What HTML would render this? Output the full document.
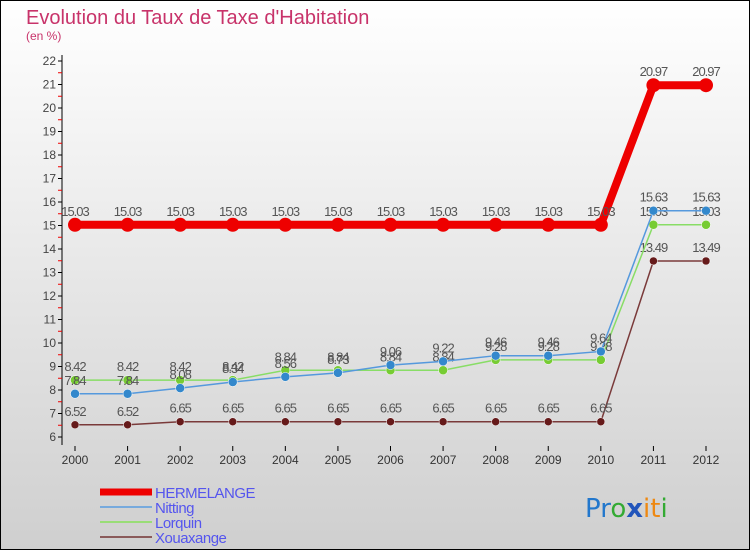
<!DOCTYPE html>
<html><head><meta charset="utf-8"><style>
html,body{margin:0;padding:0}
body{width:750px;height:550px;overflow:hidden;font-family:"Liberation Sans",sans-serif}
</style></head><body>
<svg id="chart" width="750" height="550" xmlns="http://www.w3.org/2000/svg">
<defs><linearGradient id="bg" x1="0" y1="0" x2="0" y2="1"><stop offset="0" stop-color="#ffffff"/><stop offset="1" stop-color="#cfcfcf"/></linearGradient></defs>
<rect x="0.5" y="0.5" width="749" height="549" fill="url(#bg)" stroke="#000"/>
<text x="26" y="24" font-size="20" fill="#c8336a">Evolution du Taux de Taxe d'Habitation</text>
<text x="26" y="40" font-size="12" fill="#c8336a">(en %)</text>
<g id="axes"></g><g id="series"></g><g id="legend"></g>
<text x="585" y="517" font-size="26" font-family="DejaVu Sans, sans-serif"><tspan fill="#2277cc">Pr</tspan><tspan fill="#33aa33">o</tspan><tspan fill="#2255bb" font-weight="bold">x</tspan><tspan fill="#ee8811">it</tspan><tspan fill="#33aa33">i</tspan></text>
</svg>
<script>
const years=[2000,2001,2002,2003,2004,2005,2006,2007,2008,2009,2010,2011,2012];
const hermelange=[15.03,15.03,15.03,15.03,15.03,15.03,15.03,15.03,15.03,15.03,15.03,20.97,20.97];
const nitting=[7.84,7.84,8.08,8.34,8.56,8.73,9.06,9.22,9.46,9.46,9.64,15.63,15.63];
const lorquin=[8.42,8.42,8.42,8.42,8.84,8.84,8.84,8.84,9.28,9.28,9.28,15.03,15.03];
const xouaxange=[6.52,6.52,6.65,6.65,6.65,6.65,6.65,6.65,6.65,6.65,6.65,13.49,13.49];
const yTicks=[6,7,8,9,10,11,12,13,14,15,16,17,18,19,20,21,22];
const NS="http://www.w3.org/2000/svg";
const X=i=>75+i*(706-75)/(years.length-1);
const Y=v=>437-(v-6)*(437-61)/16;
function mk(tag,attrs,parent){const e=document.createElementNS(NS,tag);for(const k in attrs)e.setAttribute(k,attrs[k]);parent.appendChild(e);return e;}
const axes=document.getElementById('axes');
let a=mk('line',{x1:62,y1:55,x2:62,y2:445,stroke:'#000'},axes);


yTicks.forEach(t=>{
 mk('line',{x1:58,y1:Y(t),x2:62,y2:Y(t),stroke:'#000'},axes);
 if(t<22) mk('line',{x1:58,y1:Y(t+0.5),x2:62,y2:Y(t+0.5),stroke:'#e00'},axes);
 const l=mk('text',{x:56,y:Y(t)+4,'text-anchor':'end','font-size':12,fill:'#444'},axes);
 l.textContent=t;
 
 
});
years.forEach((yr,i)=>{
 mk('line',{x1:X(i),y1:446,x2:X(i),y2:451,stroke:'#000'},axes);
 const l=mk('text',{x:X(i),y:464,'text-anchor':'middle','font-size':12,fill:'#333'},axes);
 l.textContent=yr;
 
 
});
const S=document.getElementById('series');
const defs=[
 {name:'xouaxange',data:xouaxange,color:'#7a3a3a',dot:'#661a1a',w:1.5,r:4},
 {name:'lorquin',data:lorquin,color:'#88dd66',dot:'#77cc33',w:1.5,r:4.5},
 {name:'nitting',data:nitting,color:'#5599dd',dot:'#3388cc',w:1.5,r:4.5},
 {name:'hermelange',data:hermelange,color:'#ee0000',dot:'#ee0000',w:8,r:7}
];
defs.forEach(s=>{
 const g=mk('g',{},S);
 
 
 const p=mk('polyline',{points:s.data.map((v,i)=>X(i)+','+Y(v)).join(' '),fill:'none',stroke:s.color,'stroke-width':s.w},g);
 
 
 s.data.forEach((v,i)=>{
  const c=mk('circle',{cx:X(i),cy:Y(v),r:s.r,fill:s.dot,stroke:s.name==='hermelange'?'none':'#fff','stroke-width':0.5},g);
  
  
  const t=mk('text',{x:X(i),y:Y(v)-9,'text-anchor':'middle','font-size':13,fill:'#555','letter-spacing':'-1'},g);
  t.textContent=String(v);
  
  
 });
});
const L=document.getElementById('legend');
const leg=[['HERMELANGE','#ee0000',7],['Nitting','#77aadd',2],['Lorquin','#99dd77',2],['Xouaxange','#8a5a5a',2]];
leg.forEach((e,i)=>{
 const y=492+i*15;
 const g=mk('g',{},L);
 
 
 mk('line',{x1:100,y1:y,x2:152,y2:y,stroke:e[1],'stroke-width':e[2]},g);
 const t=mk('text',{x:155,y:y+6,'font-size':15,fill:'#5555ee','letter-spacing':'-0.5'},g);
 t.textContent=e[0];
});
</script>
</body></html>
